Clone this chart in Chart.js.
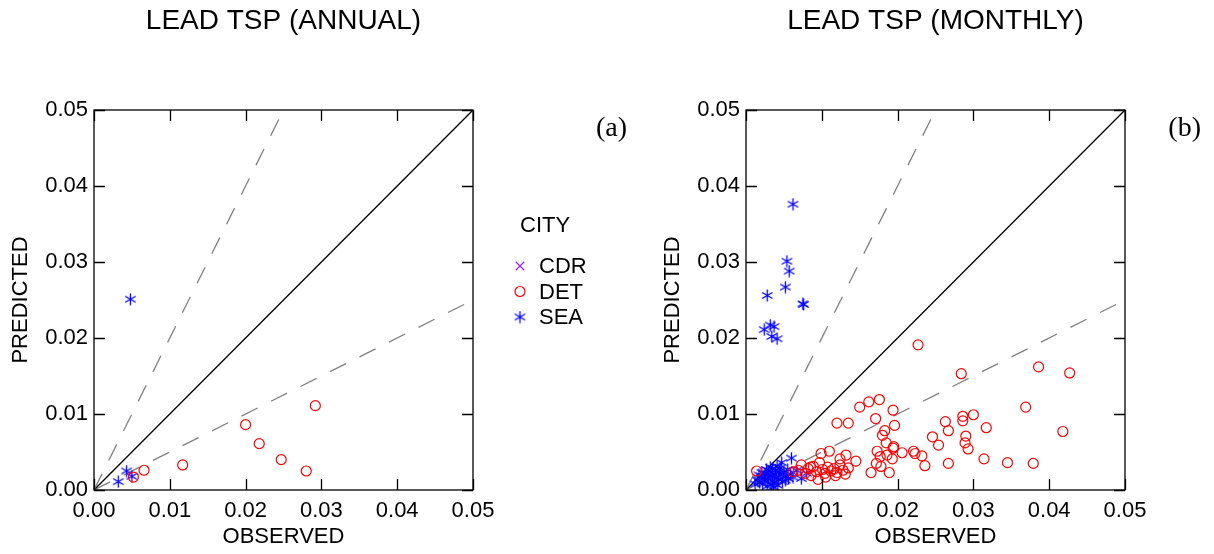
<!DOCTYPE html>
<html>
<head>
<meta charset="utf-8">
<script src="https://cdn.jsdelivr.net/npm/chart.js@4.4.1/dist/chart.umd.min.js"></script>
<style>
  html, body { margin: 0; padding: 0; background: #fff; }
  body { width: 1214px; height: 554px; position: relative; overflow: hidden; }
  canvas { position: absolute; top: 0; }
  #annual { left: 0; }
  #monthly { left: 640px; }
</style>
</head>
<body>
<canvas id="annual" width="640" height="554"></canvas>
<canvas id="monthly" width="574" height="554"></canvas>
<script>
// ---- data: [observed, predicted] pairs per city ----
const cities = ['CDR', 'DET', 'SEA'];
const axisTicks = [0, 0.01, 0.02, 0.03, 0.04, 0.05];

const annualCDR = [];
const annualDET = [
  [0.0052, 0.0017], [0.0066, 0.0026], [0.0117, 0.0033], [0.0200, 0.0086],
  [0.0218, 0.0061], [0.0247, 0.0040], [0.0280, 0.0025], [0.0292, 0.0111]
];
const annualSEA = [
  [0.0032, 0.0011], [0.0043, 0.0025], [0.0050, 0.0018], [0.0048, 0.0251]
];

const monthlyCDR = [];
const monthlyDET = [
  [0.0227, 0.0191], [0.0284, 0.0153], [0.0386, 0.0162], [0.0427, 0.0154],
  [0.0369, 0.0109], [0.0418, 0.0077], [0.0150, 0.0109], [0.0162, 0.0116],
  [0.0176, 0.0119], [0.0194, 0.0105], [0.0171, 0.0094], [0.0120, 0.0088],
  [0.0135, 0.0088], [0.0196, 0.0085], [0.0183, 0.0078], [0.0180, 0.0072],
  [0.0185, 0.0062], [0.0195, 0.0057], [0.0194, 0.0055], [0.0173, 0.0051],
  [0.0177, 0.0044], [0.0186, 0.0046], [0.0193, 0.0041], [0.0206, 0.0049],
  [0.0172, 0.0035], [0.0221, 0.0051], [0.0223, 0.0048], [0.0232, 0.0045],
  [0.0236, 0.0032], [0.0263, 0.0090], [0.0267, 0.0078], [0.0286, 0.0097],
  [0.0286, 0.0091], [0.0300, 0.0099], [0.0317, 0.0082], [0.0246, 0.0070],
  [0.0254, 0.0059], [0.0290, 0.0071], [0.0289, 0.0062], [0.0293, 0.0054],
  [0.0267, 0.0035], [0.0314, 0.0041], [0.0345, 0.0036], [0.0379, 0.0035],
  [0.0145, 0.0038], [0.0132, 0.0046], [0.0110, 0.0051], [0.0099, 0.0048],
  [0.0124, 0.0041], [0.0165, 0.0023], [0.0178, 0.0031], [0.0189, 0.0023],
  [0.0124, 0.0033], [0.0014, 0.0025], [0.0062, 0.0024], [0.0069, 0.0026],
  [0.0073, 0.0033], [0.0078, 0.0022], [0.0082, 0.0028], [0.0086, 0.0019],
  [0.0089, 0.0031], [0.0093, 0.0024], [0.0097, 0.0036], [0.0101, 0.0027],
  [0.0104, 0.0022], [0.0108, 0.0030], [0.0112, 0.0025], [0.0116, 0.0028],
  [0.0120, 0.0023], [0.0128, 0.0026], [0.0131, 0.0021], [0.0135, 0.0029],
  [0.0105, 0.0017], [0.0095, 0.0014], [0.0085, 0.0030], [0.0118, 0.0019]
];
const monthlySEA = [
  [0.0062, 0.0376], [0.0054, 0.0301], [0.0057, 0.0288], [0.0052, 0.0267],
  [0.0028, 0.0256], [0.0076, 0.0244], [0.0075, 0.0245], [0.0024, 0.0211],
  [0.0032, 0.0217], [0.0037, 0.0215], [0.0034, 0.0202], [0.0041, 0.0199],
  [0.0047, 0.0036], [0.0060, 0.0042], [0.0041, 0.0031], [0.0035, 0.0028],
  [0.0030, 0.0025], [0.0025, 0.0022], [0.0020, 0.0018], [0.0015, 0.0013],
  [0.0018, 0.0010], [0.0022, 0.0008], [0.0026, 0.0012], [0.0030, 0.0016],
  [0.0033, 0.0019], [0.0037, 0.0021], [0.0040, 0.0017], [0.0043, 0.0014],
  [0.0046, 0.0020], [0.0050, 0.0023], [0.0053, 0.0018], [0.0056, 0.0015],
  [0.0059, 0.0021], [0.0062, 0.0017], [0.0067, 0.0026], [0.0073, 0.0015],
  [0.0080, 0.0022], [0.0028, 0.0005], [0.0033, 0.0007], [0.0038, 0.0009],
  [0.0042, 0.0006], [0.0035, 0.0012], [0.0024, 0.0016], [0.0029, 0.0020],
  [0.0044, 0.0024], [0.0048, 0.0011], [0.0052, 0.0013], [0.0039, 0.0026],
  [0.0032, 0.0030], [0.0027, 0.0027], [0.0021, 0.0023], [0.0017, 0.0020],
  [0.0012, 0.0008], [0.0045, 0.0029], [0.0055, 0.0027], [0.0036, 0.0004]
];

// reference lines: predicted = ratio * observed
const ratioLines = [2, 1, 0.5];

// ---- styling ----
const FONT = 'Liberation Sans, Arial, sans-serif';
const cityColors = { CDR: '#a020f0', DET: '#ff0000', SEA: '#0000ff' };

function makeAsterisk(color, size) {
  const c = document.createElement('canvas');
  c.width = c.height = size;
  const g = c.getContext('2d');
  g.strokeStyle = color;
  g.lineWidth = 1.3;
  const r = size / 2 - 0.5, cx = size / 2, cy = size / 2;
  for (const a of [90, 30, -30]) {
    const t = a * Math.PI / 180;
    g.beginPath();
    g.moveTo(cx - r * Math.cos(t), cy - r * Math.sin(t));
    g.lineTo(cx + r * Math.cos(t), cy + r * Math.sin(t));
    g.stroke();
  }
  return c;
}
const asterisk = makeAsterisk(cityColors.SEA, 13);

const cityStyle = {
  CDR: { pointStyle: 'crossRot', pointRadius: 6, pointBorderWidth: 1.2 },
  DET: { pointStyle: 'circle', pointRadius: 5, pointBorderWidth: 1.2 },
  SEA: { pointStyle: asterisk, pointRadius: 6, pointBorderWidth: 1.2 }
};

const toPoints = arr => arr.map(([x, y]) => ({ x, y }));

function buildDatasets(series) {
  const sets = cities.map(city => Object.assign({
    type: 'scatter',
    label: city,
    data: toPoints(series[city]),
    borderColor: cityColors[city],
    backgroundColor: 'rgba(0,0,0,0)',
    order: 1
  }, cityStyle[city]));
  ratioLines.forEach(r => {
    const xEnd = Math.min(0.05, 0.05 / r);
    sets.push({
      type: 'line',
      label: 'ratio ' + r,
      data: [{ x: 0, y: 0 }, { x: xEnd, y: xEnd * r }],
      borderColor: r === 1 ? '#000000' : '#808080',
      borderWidth: 1.3,
      borderDash: r === 1 ? [] : [18, 15],
      pointRadius: 0,
      fill: false,
      order: 2
    });
  });
  return sets;
}

// frame, inward tick marks, titles
const framePlugin = {
  id: 'frame',
  afterDatasetsDraw(chart, args, opts) {
    const { ctx, chartArea: a, scales } = chart;
    ctx.save();
    ctx.strokeStyle = '#000';
    ctx.lineWidth = 1.3;
    ctx.strokeRect(a.left, a.top, a.right - a.left, a.bottom - a.top);
    const len = 11;
    ctx.beginPath();
    axisTicks.forEach(v => {
      const px = Math.round(scales.x.getPixelForValue(v)) + 0.5;
      ctx.moveTo(px, a.bottom); ctx.lineTo(px, a.bottom - len);
      ctx.moveTo(px, a.top); ctx.lineTo(px, a.top + len);
      const py = Math.round(scales.y.getPixelForValue(v)) + 0.5;
      ctx.moveTo(a.left, py); ctx.lineTo(a.left + len, py);
      ctx.moveTo(a.right, py); ctx.lineTo(a.right - len, py);
    });
    ctx.stroke();

    ctx.fillStyle = '#000';
    ctx.textBaseline = 'middle';
    ctx.textAlign = 'center';
    const cx = (a.left + a.right) / 2;
    ctx.font = '28px ' + FONT;
    ctx.fillText(opts.title, cx, 21);
    ctx.font = '22px ' + FONT;
    ctx.fillText('OBSERVED', cx, 537);
    ctx.save();
    ctx.translate(a.left - 73, (a.top + a.bottom) / 2);
    ctx.rotate(-Math.PI / 2);
    ctx.fillText('PREDICTED', 0, 0);
    ctx.restore();
    ctx.font = '28px "Liberation Serif", "Times New Roman", serif';
    ctx.textAlign = 'right';
    ctx.fillText(opts.tag, chart.width - 13, 129);
    ctx.restore();
  }
};

// city legend drawn beside the annual panel
const cityLegend = {
  id: 'cityLegend',
  afterDraw(chart) {
    const ctx = chart.ctx;
    ctx.save();
    ctx.fillStyle = '#000';
    ctx.textBaseline = 'middle';
    ctx.textAlign = 'left';
    ctx.font = '22px ' + FONT;
    ctx.fillText('CITY', 520, 226);
    chart.data.datasets.filter(d => cities.includes(d.label)).forEach((d, i) => {
      const y = 266 + i * 25.5;
      ctx.strokeStyle = d.borderColor;
      ctx.fillStyle = 'rgba(0,0,0,0)';
      ctx.lineWidth = d.pointBorderWidth;
      Chart.helpers.drawPoint(ctx, {
        pointStyle: d.pointStyle, radius: d.pointRadius, borderWidth: d.pointBorderWidth, rotation: 0
      }, 520, y);
      ctx.fillStyle = '#000';
      ctx.fillText(d.label, 539, y + 1);
    });
    ctx.restore();
  }
};

function axisOptions(yWidth) {
  const tickFont = { family: FONT, size: 22 };
  const fmt = v => Number(v).toFixed(2);
  return {
    x: {
      type: 'linear', min: 0, max: 0.05,
      afterBuildTicks: s => { s.ticks = axisTicks.map(v => ({ value: v })); },
      ticks: { callback: fmt, font: tickFont, color: '#000', padding: 8, maxRotation: 0 },
      grid: { display: false, drawTicks: false },
      border: { display: false },
      afterFit: s => { s.height = 64; }
    },
    y: {
      type: 'linear', min: 0, max: 0.05,
      afterBuildTicks: s => { s.ticks = axisTicks.map(v => ({ value: v })); },
      ticks: { callback: fmt, font: tickFont, color: '#000', padding: 6 },
      grid: { display: false, drawTicks: false },
      border: { display: false },
      afterFit: s => { s.width = yWidth; }
    }
  };
}

function makeChart(id, series, yWidth, padRight, title, tag, extraPlugins) {
  return new Chart(document.getElementById(id), {
    type: 'scatter',
    data: { datasets: buildDatasets(series) },
    options: {
      responsive: false,
      animation: false,
      devicePixelRatio: 1,
      layout: { padding: { left: 0, top: 110, right: padRight, bottom: 0 } },
      plugins: {
        legend: { display: false },
        tooltip: { enabled: false },
        frame: { title, tag }
      },
      scales: axisOptions(yWidth)
    },
    plugins: [framePlugin].concat(extraPlugins)
  });
}

makeChart('annual', { CDR: annualCDR, DET: annualDET, SEA: annualSEA },
  94, 640 - 473, 'LEAD TSP (ANNUAL)', '(a)', [cityLegend]);
makeChart('monthly', { CDR: monthlyCDR, DET: monthlyDET, SEA: monthlySEA },
  106, 574 - 485, 'LEAD TSP (MONTHLY)', '(b)', []);
</script>
</body>
</html>
